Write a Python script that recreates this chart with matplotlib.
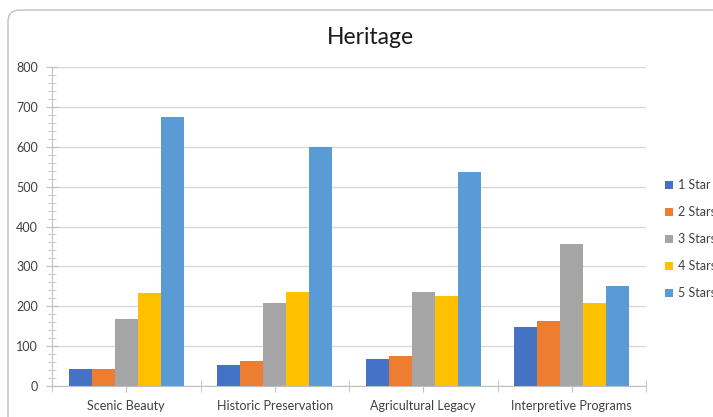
import numpy as np
from matplotlib import pyplot as plt
from matplotlib.patches import FancyBboxPatch

categories = ["Scenic Beauty", "Historic Preservation", "Agricultural Legacy", "Interpretive Programs"]
series = ["1 Star", "2 Stars", "3 Stars", "4 Stars", "5 Stars"]
one_star = [42, 52, 68, 148]
two_stars = [43, 63, 75, 163]
three_stars = [168, 207, 236, 355]
four_stars = [232, 235, 226, 208]
five_stars = [675, 600, 536, 250]
colors = ["#4472C4", "#ED7D31", "#A5A5A5", "#FFC000", "#5B9BD5"]

values = [one_star, two_stars, three_stars, four_stars, five_stars]

plt.rcParams['font.family'] = ['Lato', 'DejaVu Sans']

fig = plt.figure(figsize=(7.13, 4.17), dpi=100)

# chart area frame in inches, running off the right and bottom edges
frame = FancyBboxPatch((0.08, -1.0), 8.0, 5.07,
                       boxstyle="round,pad=0,rounding_size=0.12",
                       transform=fig.dpi_scale_trans, facecolor="white",
                       edgecolor="#BFBFBF", linewidth=1.0, zorder=-5)
fig.patches.append(frame)

ax = fig.add_axes([52 / 713, 31 / 417, (646 - 52) / 713, (350 - 31) / 417])
ax.set_facecolor("none")

x = np.arange(len(categories))
width = 0.155
for i, (name, vals) in enumerate(zip(series, values)):
    offset = (i - 2) * width
    ax.bar(x + offset, vals, width, color=colors[i], label=name, zorder=3)

ax.set_xlim(-0.5, len(categories) - 0.5)
ax.set_ylim(0, 800)
ax.set_yticks(np.arange(0, 801, 100))
ax.set_yticks(np.arange(0, 801, 20), minor=True)
ax.yaxis.grid(True, color="#D9D9D9", linewidth=1.0, zorder=0)

ax.set_xticks(x)
ax.set_xticklabels(categories)
ax.set_xticks(np.arange(-0.5, len(categories), 1.0), minor=True)

for s in ["top", "right"]:
    ax.spines[s].set_visible(False)
for s in ["left", "bottom"]:
    ax.spines[s].set_color("#BFBFBF")
    ax.spines[s].set_zorder(4)

ax.tick_params(axis="both", which="both", direction="inout", color="#BFBFBF",
               labelsize=9, labelcolor="#404040")
ax.tick_params(axis="y", which="major", length=8, pad=6)
ax.tick_params(axis="y", which="minor", length=6)
ax.tick_params(axis="x", which="both", length=8, pad=6)

fig.text(370 / 713, 1 - 37 / 417, "Heritage", ha="center", va="center",
         fontsize=16.5, color="#1a1a1a")

handles, labels = ax.get_legend_handles_labels()
fig.legend(handles, labels, loc="center left", bbox_to_anchor=(654 / 713, 1 - 239 / 417),
           frameon=False, fontsize=9, handlelength=0.6, handleheight=0.6,
           handletextpad=0.4, labelspacing=1.2, labelcolor="#404040")

fig.savefig("out.png", dpi=100)
